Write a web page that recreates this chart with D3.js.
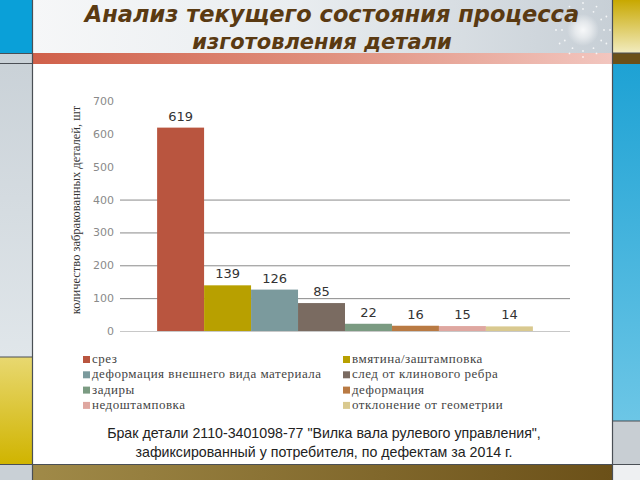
<!DOCTYPE html>
<html><head><meta charset="utf-8">
<script src="https://cdn.jsdelivr.net/npm/d3@7"></script>
<style>html,body{margin:0;padding:0;background:#fff;}svg{display:block;}</style>
</head><body>
<script>
const categories = ["срез","вмятина/заштамповка","деформация внешнего вида материала","след от клинового ребра","задиры","деформация","недоштамповка","отклонение от геометрии"];
const values = [619,139,126,85,22,16,15,14];
const colors = ["#b9553f","#b8a000","#7b9a9d","#7a6b61","#7b9b82","#b97a43","#dfa7a0","#d9c98f"];
const yTicks = [0,100,200,300,400,500,600,700];
const title = ["Анализ текущего состояния процесса","изготовления детали"];
const yTitle = "количество забракованных деталей, шт";
const caption = ["Брак детали 2110-3401098-77 \"Вилка вала рулевого управления\",","зафиксированный у потребителя, по дефектам за 2014 г."];

const W=640,H=480;
const svg=d3.select("body").append("svg").attr("width",W).attr("height",H);
const defs=svg.append("defs");
function lg(id,x2,y2,stops){const g=defs.append("linearGradient").attr("id",id).attr("x1",0).attr("y1",0).attr("x2",x2).attr("y2",y2);stops.forEach(s=>g.append("stop").attr("offset",s[0]).attr("stop-color",s[1]));}
lg("gTitle",1,0,[[0,"#f6f7f8"],[0.45,"#e9edf0"],[1,"#c7cfd6"]]);
lg("gRed",1,0,[[0,"#d0604a"],[0.5,"#e0907e"],[1,"#f2c6bf"]]);
lg("gGold",0,1,[[0,"#c8a800"],[1,"#f2ecc0"]]);
lg("gBlueR",0,1,[[0,"#1ea2d4"],[1,"#6cc6e6"]]);
lg("gYel",0,1,[[0,"#e8d870"],[1,"#d0b400"]]);
lg("gGrayL",0,1,[[0,"#c9d1d7"],[1,"#e0e6ea"]]);
lg("gBrown",1,0,[[0,"#a08a48"],[1,"#6b5018"]]);
const rg=defs.append("radialGradient").attr("id","gSun");
rg.append("stop").attr("offset",0).attr("stop-color","#ffffff").attr("stop-opacity",1);
rg.append("stop").attr("offset",0.5).attr("stop-color","#ffffff").attr("stop-opacity",0.6);
rg.append("stop").attr("offset",1).attr("stop-color","#ffffff").attr("stop-opacity",0);

// background decorations
const bg=svg.append("g");
bg.append("rect").attr("x",0).attr("y",0).attr("width",W).attr("height",H).attr("fill","#ffffff");
bg.append("rect").attr("x",0).attr("y",0).attr("width",32).attr("height",53).attr("fill","#0aa0d8");
bg.append("rect").attr("x",0).attr("y",53).attr("width",32).attr("height",304).attr("fill","url(#gGrayL)");
bg.append("rect").attr("x",0).attr("y",357).attr("width",32).attr("height",107).attr("fill","url(#gYel)");
bg.append("rect").attr("x",0).attr("y",464).attr("width",32).attr("height",16).attr("fill","#c9d0d6");
bg.append("rect").attr("x",32).attr("y",0).attr("width",581).attr("height",53).attr("fill","url(#gTitle)");
bg.append("rect").attr("x",32).attr("y",53).attr("width",581).attr("height",11).attr("fill","url(#gRed)");
bg.append("rect").attr("x",613).attr("y",0).attr("width",27).attr("height",53).attr("fill","url(#gGold)");
bg.append("rect").attr("x",613).attr("y",53).attr("width",27).attr("height",11).attr("fill","#6b5018");
bg.append("rect").attr("x",613).attr("y",64).attr("width",27).attr("height",357).attr("fill","url(#gBlueR)");
bg.append("rect").attr("x",613).attr("y",421).attr("width",27).attr("height",44).attr("fill","#c8ced3");
bg.append("rect").attr("x",613).attr("y",465).attr("width",27).attr("height",15).attr("fill","#eef0f2");
bg.append("rect").attr("x",32).attr("y",465).attr("width",581).attr("height",15).attr("fill","url(#gBrown)");
const ln=(x1,y1,x2,y2,c,w)=>bg.append("line").attr("x1",x1).attr("y1",y1).attr("x2",x2).attr("y2",y2).attr("stroke",c).attr("stroke-width",w||1);
ln(32.5,0,32.5,480,"#4a4f55",1.2);
ln(612.5,0,612.5,480,"#4a4f55",1.2);
ln(0,53.5,32,53.5,"#4a4f55",1);
ln(0,63.5,32,63.5,"#4a4f55",1);
ln(0,357,32,357,"#4a4f55",1);
ln(0,464.5,640,464.5,"#4a4f55",1);
ln(613,421,640,421,"#4a4f55",1);
ln(613,53,640,53,"#4a4f55",1);
// sun
const sun=bg.append("g").attr("transform","translate(583,30)");
sun.append("circle").attr("r",16).attr("fill","url(#gSun)").attr("opacity",0.85);
d3.range(12).map(i=>i*30).forEach(a=>{[21,27].forEach(r=>{sun.append("circle").attr("cx",r*Math.cos(a*Math.PI/180)).attr("cy",r*Math.sin(a*Math.PI/180)).attr("r",0.9).attr("fill","#ffffff").attr("opacity",0.8);});});

// title
const tg=svg.append("g");
const tSizes=[22.5,21], tX=[332,322], tY=[22,49];
title.forEach((t,i)=>tg.append("text").attr("x",tX[i]).attr("y",tY[i]).attr("text-anchor","middle")
  .attr("font-family","DejaVu Sans").attr("font-weight","bold").attr("font-style","italic").attr("font-size",tSizes[i])
  .attr("fill","#5a3a12").text(t));

// chart
const x=d3.scaleBand().domain(categories).range([120,570]).paddingInner(0).paddingOuter(0.79);
const y=d3.scaleLinear().domain([0,700]).range([331,101]);
const ch=svg.append("g");
ch.selectAll("line.grid").data(yTicks.filter(d=>d<=400)).join("line").attr("class","grid")
  .attr("x1",120).attr("x2",570).attr("y1",d=>y(d)+0.5).attr("y2",d=>y(d)+0.5)
  .attr("stroke",d=>d===0?"#c8c8c8":"#8a8a8a").attr("stroke-width",1);
const ax=ch.append("g").attr("transform","translate(114,0)")
  .call(d3.axisLeft(y).tickValues(yTicks).tickSize(0).tickPadding(0));
ax.select(".domain").remove();
ax.selectAll("text").attr("font-family","DejaVu Sans").attr("font-size",11).attr("fill","#8a8a8a");
ch.selectAll("rect.bar").data(values).join("rect").attr("class","bar")
  .attr("x",(d,i)=>x(categories[i])).attr("width",x.bandwidth())
  .attr("y",d=>y(d)).attr("height",d=>y(0)-y(d)).attr("fill",(d,i)=>colors[i]);
ch.selectAll("text.val").data(values).join("text").attr("class","val")
  .attr("x",(d,i)=>x(categories[i])+x.bandwidth()/2).attr("y",d=>y(d)-7)
  .attr("text-anchor","middle").attr("font-family","DejaVu Sans").attr("font-size",13).attr("fill","#333")
  .text(d=>d);
ch.append("text").attr("transform","translate(80,210) rotate(-90)").attr("text-anchor","middle")
  .attr("font-family","Liberation Serif").attr("font-size",12.5).attr("fill","#333").text(yTitle);

// legend
const lgG=svg.append("g");
categories.forEach((c,i)=>{
  const col=i%2,row=Math.floor(i/2);
  const lx=col===0?83:343, ly=360+row*15.3;
  lgG.append("rect").attr("x",lx).attr("y",ly-4).attr("width",7).attr("height",7).attr("fill",colors[i]);
  lgG.append("text").attr("x",lx+9).attr("y",ly+3).attr("font-family","Liberation Serif").attr("font-size",13)
    .attr("letter-spacing",0.5).attr("fill","#444").text(c);
});

// caption
caption.forEach((t,i)=>svg.append("text").attr("x",324).attr("y",438+i*19).attr("text-anchor","middle")
  .attr("font-family","Liberation Sans").attr("font-size",14.2).attr("fill","#222").text(t));
</script>
</body></html>
